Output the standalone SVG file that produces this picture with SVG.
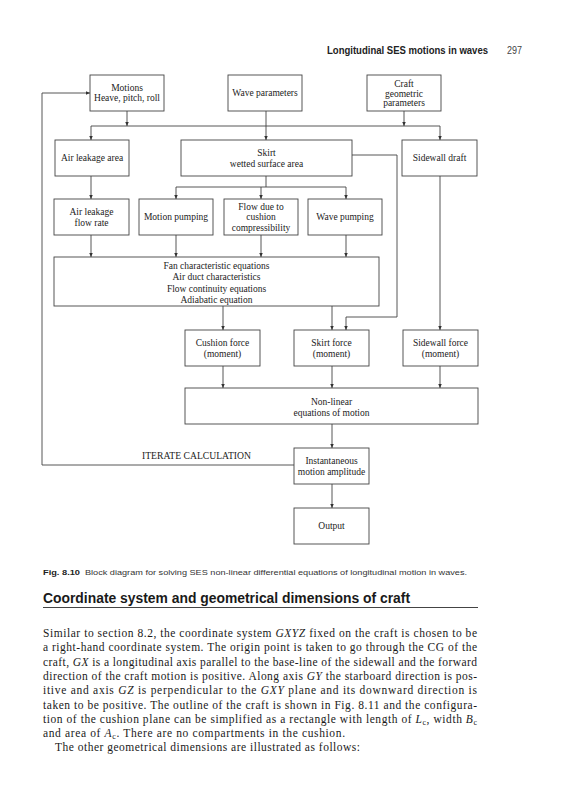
<svg xmlns="http://www.w3.org/2000/svg" width="564" height="800" viewBox="0 0 564 800">
<defs>
<marker id="ah" markerUnits="userSpaceOnUse" markerWidth="5" markerHeight="4" refX="4.5" refY="2" orient="auto">
<path d="M0,0 L4.5,2 L0,4 z" fill="#333"/>
</marker>
<style>
.box{fill:#fff;stroke:#444;stroke-width:0.9}
.t{font-family:"Liberation Serif","Times New Roman",serif;font-size:9.5px;fill:#222;text-anchor:middle}
.c{fill:none;stroke:#444;stroke-width:0.9}
.a{fill:none;stroke:#444;stroke-width:0.9;marker-end:url(#ah)}
.body{font-family:"Liberation Serif","Times New Roman",serif;font-size:11.5px;fill:#1a1a1a}
.i{font-style:italic}
.sub{font-size:8px}
</style>
</defs>
<rect width="564" height="800" fill="#fff"/>

<text x="327" y="54" font-family="'Liberation Sans',Arial,sans-serif" font-weight="bold" font-size="10.5" fill="#222" textLength="161" lengthAdjust="spacingAndGlyphs">Longitudinal SES motions in waves</text>
<text x="507" y="54" font-family="'Liberation Sans',Arial,sans-serif" font-size="10.5" fill="#444" textLength="15" lengthAdjust="spacingAndGlyphs">297</text>

<g id="connectors">
<polyline class="a" points="294,465 42,465 42,93 90,93"/>
<line class="a" x1="127" y1="111" x2="127" y2="126"/>
<line class="c" x1="266" y1="111" x2="266" y2="126"/>
<line class="a" x1="404" y1="111" x2="404" y2="126"/>
<line class="c" x1="91" y1="126" x2="440" y2="126"/>
<line class="a" x1="91" y1="126" x2="91" y2="140"/>
<line class="a" x1="266" y1="126" x2="266" y2="140"/>
<line class="a" x1="440" y1="126" x2="440" y2="140"/>
<line class="a" x1="91" y1="176" x2="91" y2="199"/>
<line class="c" x1="266" y1="176" x2="266" y2="187"/>
<line class="c" x1="176" y1="187" x2="346" y2="187"/>
<line class="a" x1="176" y1="187" x2="176" y2="199"/>
<line class="a" x1="261" y1="187" x2="261" y2="199"/>
<line class="a" x1="346" y1="187" x2="346" y2="199"/>
<line class="a" x1="91" y1="235" x2="91" y2="257"/>
<line class="a" x1="176" y1="235" x2="176" y2="257"/>
<line class="a" x1="261" y1="235" x2="261" y2="257"/>
<line class="a" x1="346" y1="235" x2="346" y2="257"/>
<polyline class="a" points="352,155 397,155 397,317 346,317 346,330"/>
<line class="a" x1="440" y1="176" x2="440" y2="330"/>
<line class="a" x1="223" y1="306" x2="223" y2="330"/>
<line class="a" x1="332" y1="306" x2="332" y2="330"/>
<line class="a" x1="223" y1="366" x2="223" y2="388"/>
<line class="a" x1="332" y1="366" x2="332" y2="388"/>
<line class="a" x1="440" y1="366" x2="440" y2="388"/>
<line class="a" x1="332" y1="424" x2="332" y2="448"/>
<line class="a" x1="332" y1="484" x2="332" y2="508"/>
<text class="t" x="196.5" y="458.5" textLength="109" lengthAdjust="spacingAndGlyphs">ITERATE CALCULATION</text>
</g>

<g id="motions"><rect class="box" x="90" y="75" width="74" height="36"/>
<text class="t" x="127" y="90.5">Motions</text><text class="t" x="127" y="101">Heave, pitch, roll</text></g>
<g id="wave-parameters"><rect class="box" x="228" y="75" width="74" height="36"/>
<text class="t" x="265" y="96">Wave parameters</text></g>
<g id="craft-geometric"><rect class="box" x="367" y="75" width="74" height="36"/>
<text class="t" x="404" y="87">Craft</text><text class="t" x="404" y="96.5">geometric</text><text class="t" x="404" y="106">parameters</text></g>

<g id="air-leakage-area"><rect class="box" x="55" y="140" width="74" height="36"/>
<text class="t" x="92" y="161">Air leakage area</text></g>
<g id="skirt-wetted"><rect class="box" x="181" y="140" width="171" height="36"/>
<text class="t" x="266.5" y="156">Skirt</text><text class="t" x="266.5" y="167">wetted surface area</text></g>
<g id="sidewall-draft"><rect class="box" x="402" y="140" width="75" height="36"/>
<text class="t" x="439.5" y="161">Sidewall draft</text></g>

<g id="air-leakage-flow"><rect class="box" x="54" y="199" width="75" height="36"/>
<text class="t" x="91.5" y="215">Air leakage</text><text class="t" x="91.5" y="225.5">flow rate</text></g>
<g id="motion-pumping"><rect class="box" x="139" y="199" width="74" height="36"/>
<text class="t" x="176" y="220">Motion pumping</text></g>
<g id="flow-compressibility"><rect class="box" x="224" y="199" width="74" height="36"/>
<text class="t" x="261" y="209.5">Flow due to</text><text class="t" x="261" y="220">cushion</text><text class="t" x="261" y="230.5">compressibility</text></g>
<g id="wave-pumping"><rect class="box" x="308" y="199" width="74" height="36"/>
<text class="t" x="345" y="220">Wave pumping</text></g>

<g id="fan-equations"><rect class="box" x="54" y="257" width="325" height="49"/>
<text class="t" x="216.5" y="269">Fan characteristic equations</text>
<text class="t" x="216.5" y="280">Air duct characteristics</text>
<text class="t" x="216.5" y="291.5">Flow continuity equations</text>
<text class="t" x="216.5" y="302.5">Adiabatic equation</text></g>

<g id="cushion-force"><rect class="box" x="185" y="330" width="75" height="36"/>
<text class="t" x="222.5" y="346">Cushion force</text><text class="t" x="222.5" y="357">(moment)</text></g>
<g id="skirt-force"><rect class="box" x="294" y="330" width="75" height="36"/>
<text class="t" x="331.5" y="346">Skirt force</text><text class="t" x="331.5" y="357">(moment)</text></g>
<g id="sidewall-force"><rect class="box" x="403" y="330" width="75" height="36"/>
<text class="t" x="440.5" y="346">Sidewall force</text><text class="t" x="440.5" y="357">(moment)</text></g>

<g id="nonlinear-equations"><rect class="box" x="185" y="388" width="293" height="36"/>
<text class="t" x="331.5" y="405">Non-linear</text><text class="t" x="331.5" y="416">equations of motion</text></g>
<g id="instantaneous-amplitude"><rect class="box" x="294" y="448" width="75" height="36"/>
<text class="t" x="331.5" y="464">Instantaneous</text><text class="t" x="331.5" y="475">motion amplitude</text></g>
<g id="output"><rect class="box" x="294" y="508" width="75" height="36"/>
<text class="t" x="331.5" y="529">Output</text></g>

<text x="43" y="575" font-family="'Liberation Sans',Arial,sans-serif" font-weight="bold" font-size="8" fill="#222" textLength="37" lengthAdjust="spacingAndGlyphs">Fig. 8.10</text>
<text x="85" y="575" font-family="'Liberation Sans',Arial,sans-serif" font-size="8" fill="#333" textLength="382" lengthAdjust="spacingAndGlyphs">Block diagram for solving SES non-linear differential equations of longitudinal motion in waves.</text>

<text x="43" y="603" font-family="'Liberation Sans',Arial,sans-serif" font-weight="bold" font-size="14" fill="#1a1a1a" textLength="367" lengthAdjust="spacingAndGlyphs">Coordinate system and geometrical dimensions of craft</text>
<line x1="43" y1="607.5" x2="478" y2="607.5" stroke="#444" stroke-width="1.2"/>

<text class="body" x="43" y="637" textLength="434" lengthAdjust="spacing">Similar to section 8.2, the coordinate system <tspan class="i">GXYZ</tspan> fixed on the craft is chosen to be</text>
<text class="body" x="43" y="651.3" textLength="434" lengthAdjust="spacing">a right-hand coordinate system. The origin point is taken to go through the CG of the</text>
<text class="body" x="43" y="665.6" textLength="434" lengthAdjust="spacing">craft, <tspan class="i">GX</tspan> is a longitudinal axis parallel to the base-line of the sidewall and the forward</text>
<text class="body" x="43" y="679.9" textLength="434" lengthAdjust="spacing">direction of the craft motion is positive. Along axis <tspan class="i">GY</tspan> the starboard direction is pos-</text>
<text class="body" x="43" y="694.2" textLength="434" lengthAdjust="spacing">itive and axis <tspan class="i">GZ</tspan> is perpendicular to the <tspan class="i">GXY</tspan> plane and its downward direction is</text>
<text class="body" x="43" y="708.5" textLength="434" lengthAdjust="spacing">taken to be positive. The outline of the craft is shown in Fig. 8.11 and the configura-</text>
<text class="body" x="43" y="722.8" textLength="434" lengthAdjust="spacing">tion of the cushion plane can be simplified as a rectangle with length of <tspan class="i">L</tspan><tspan class="sub" dy="2">c</tspan><tspan dy="-2">, width </tspan><tspan class="i">B</tspan><tspan class="sub" dy="2">c</tspan></text>
<text class="body" x="43" y="737.1" textLength="302" lengthAdjust="spacing">and area of <tspan class="i">A</tspan><tspan class="sub" dy="2">c</tspan><tspan dy="-2">. There are no compartments in the cushion.</tspan></text>
<text class="body" x="55" y="751.4" textLength="305" lengthAdjust="spacing">The other geometrical dimensions are illustrated as follows:</text>
</svg>
